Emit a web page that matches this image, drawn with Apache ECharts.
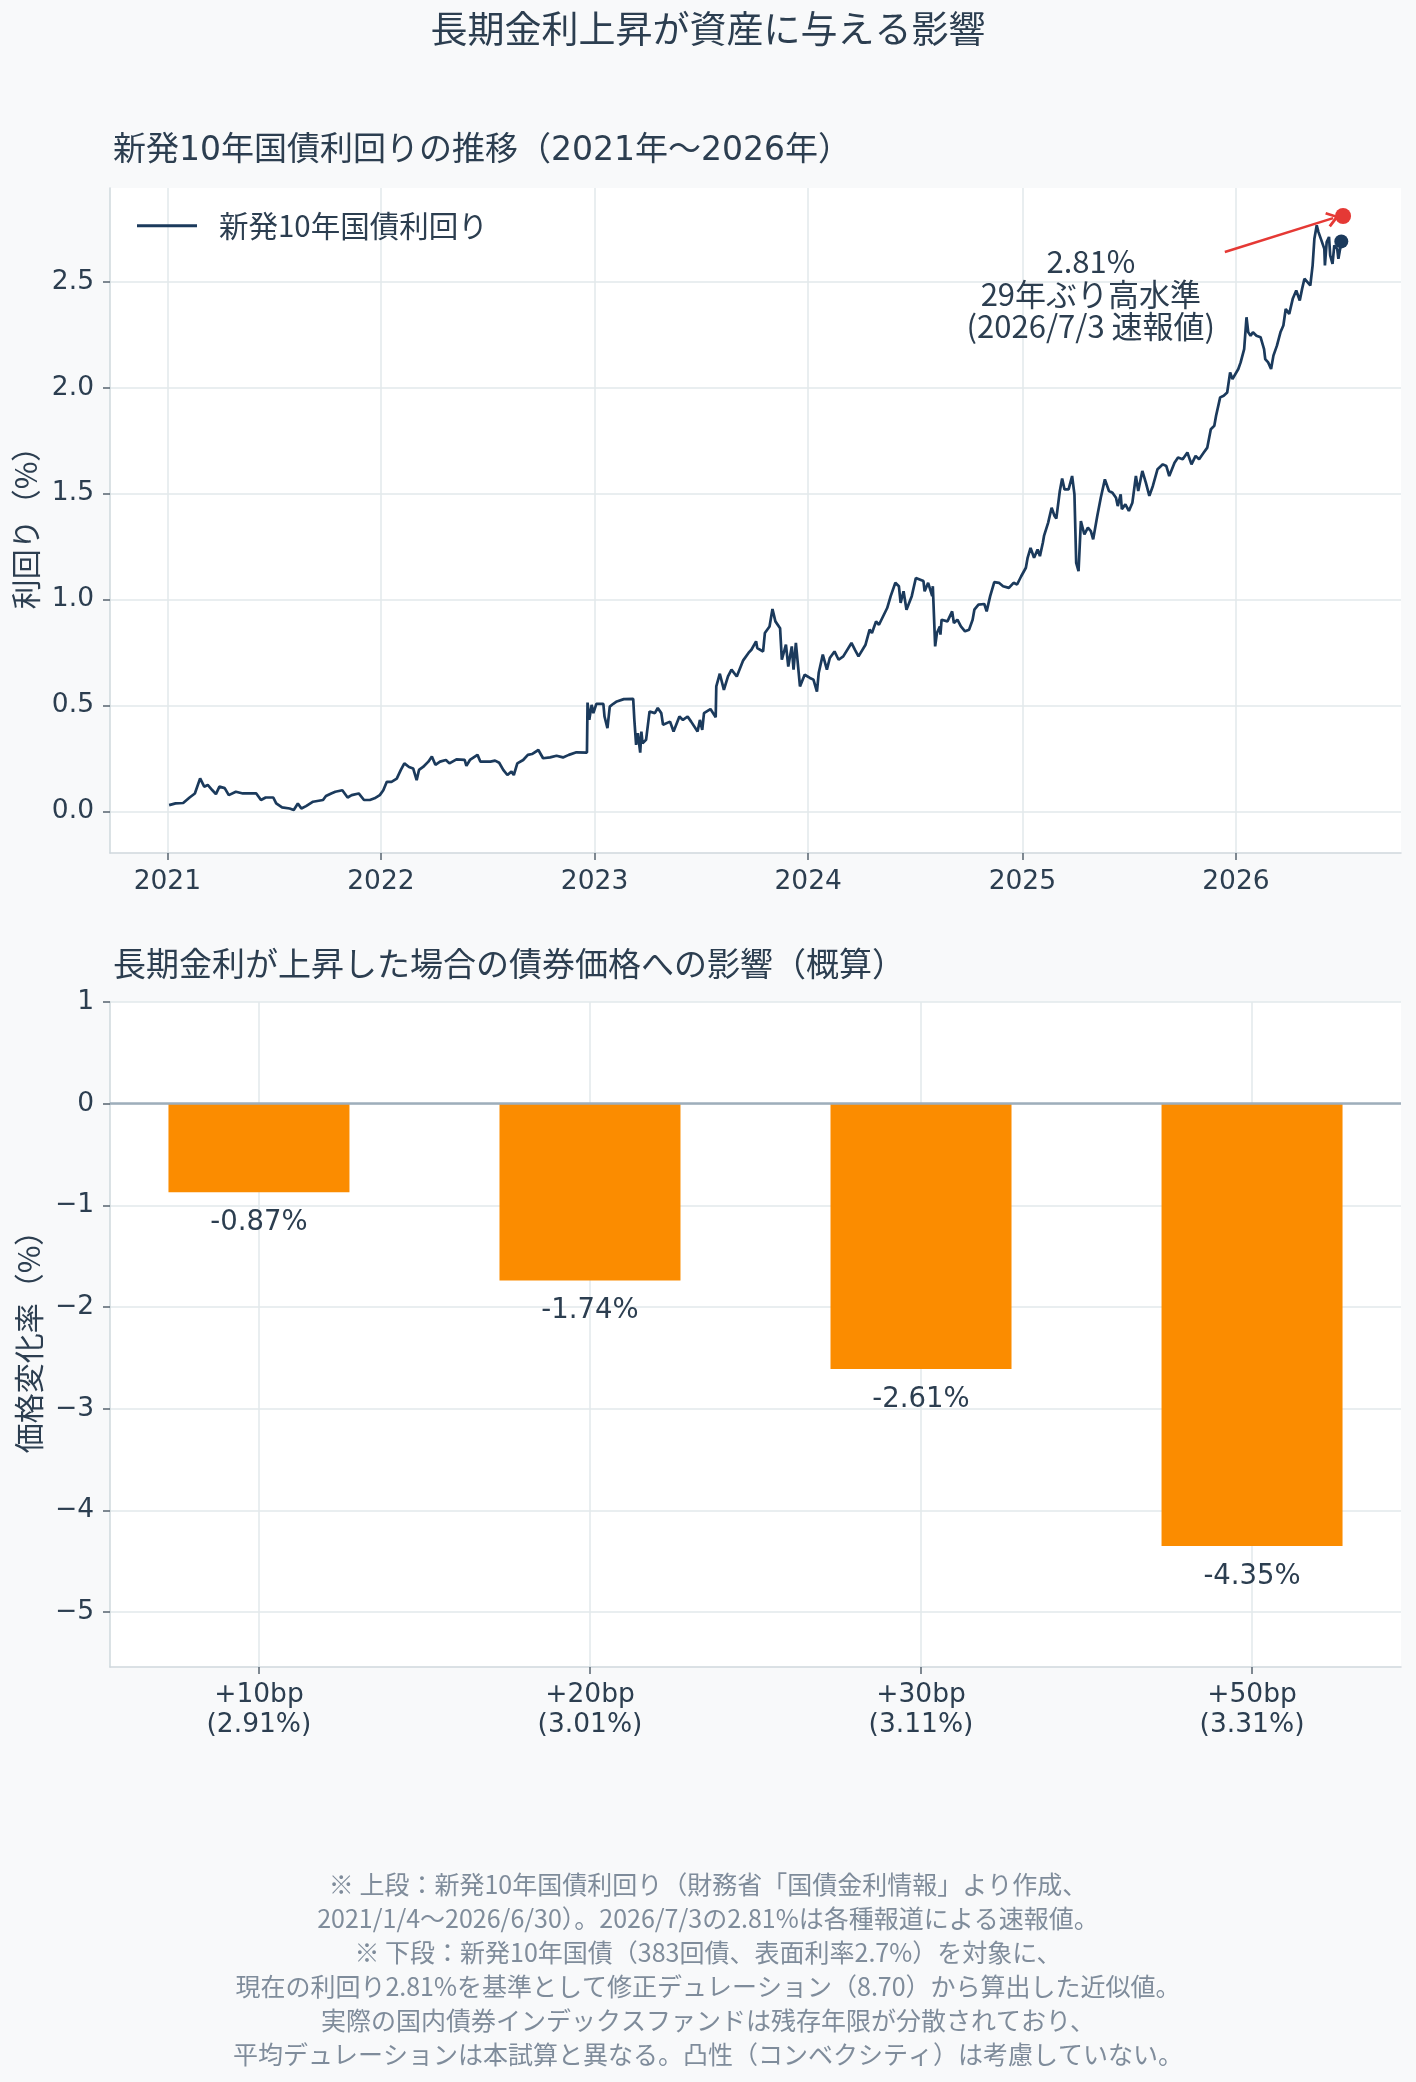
<!DOCTYPE html>
<html>
<head>
<meta charset="utf-8">
<title>長期金利上昇が資産に与える影響</title>
<script src="https://cdn.jsdelivr.net/npm/echarts@6/dist/echarts.min.js"></script>
<style>
  html, body { margin: 0; padding: 0; background: #f8f9fa; }
  #chart { width: 1416px; height: 2082px; }
</style>
</head>
<body>
<div id="chart"></div>
<script>
// 新発10年国債利回り（%）: 図から読み取った値
var yield2021 = [
  ['2021-01-04', 0.030], ['2021-01-15', 0.038], ['2021-01-28', 0.040], ['2021-02-08', 0.066],
  ['2021-02-17', 0.085], ['2021-02-26', 0.156], ['2021-03-05', 0.117], ['2021-03-11', 0.125],
  ['2021-03-19', 0.100], ['2021-03-25', 0.082], ['2021-03-31', 0.117], ['2021-04-09', 0.110],
  ['2021-04-16', 0.077], ['2021-04-28', 0.093], ['2021-05-10', 0.085], ['2021-06-02', 0.085],
  ['2021-06-10', 0.054], ['2021-06-18', 0.066], ['2021-07-01', 0.066], ['2021-07-06', 0.038],
  ['2021-07-16', 0.019], ['2021-07-29', 0.014], ['2021-08-05', 0.007], ['2021-08-12', 0.038],
  ['2021-08-18', 0.014], ['2021-08-26', 0.025], ['2021-09-07', 0.046], ['2021-09-24', 0.054],
  ['2021-09-29', 0.073], ['2021-10-08', 0.085], ['2021-10-15', 0.093], ['2021-10-27', 0.100],
  ['2021-11-05', 0.066], ['2021-11-12', 0.077], ['2021-11-24', 0.085], ['2021-12-03', 0.054],
  ['2021-12-13', 0.054], ['2021-12-21', 0.062], ['2021-12-30', 0.077]
];
var yield2022 = [
  ['2022-01-05', 0.100], ['2022-01-11', 0.140], ['2022-01-19', 0.140], ['2022-01-28', 0.155],
  ['2022-02-04', 0.196], ['2022-02-10', 0.227], ['2022-02-18', 0.210], ['2022-02-25', 0.203],
  ['2022-03-03', 0.148], ['2022-03-07', 0.196], ['2022-03-14', 0.210], ['2022-03-23', 0.235],
  ['2022-03-29', 0.259], ['2022-04-04', 0.220], ['2022-04-12', 0.235], ['2022-04-22', 0.243],
  ['2022-04-28', 0.227], ['2022-05-10', 0.246], ['2022-05-24', 0.243], ['2022-05-27', 0.215],
  ['2022-06-02', 0.243], ['2022-06-15', 0.267], ['2022-06-20', 0.235], ['2022-07-07', 0.235],
  ['2022-07-15', 0.240], ['2022-07-22', 0.230], ['2022-07-29', 0.196], ['2022-08-05', 0.172],
  ['2022-08-12', 0.188], ['2022-08-16', 0.172], ['2022-08-22', 0.227], ['2022-09-01', 0.243],
  ['2022-09-09', 0.267], ['2022-09-16', 0.271], ['2022-09-27', 0.290], ['2022-10-05', 0.251],
  ['2022-10-17', 0.255], ['2022-10-28', 0.263], ['2022-11-08', 0.255], ['2022-11-18', 0.267],
  ['2022-12-01', 0.279], ['2022-12-19', 0.278], ['2022-12-20', 0.514], ['2022-12-23', 0.432],
  ['2022-12-27', 0.503], ['2022-12-30', 0.464]
];
var yield2023 = [
  ['2023-01-04', 0.508], ['2023-01-16', 0.508], ['2023-01-18', 0.448], ['2023-01-23', 0.393],
  ['2023-01-27', 0.495], ['2023-02-02', 0.508], ['2023-02-08', 0.519], ['2023-02-20', 0.530],
  ['2023-03-08', 0.531], ['2023-03-10', 0.432], ['2023-03-13', 0.314], ['2023-03-16', 0.369],
  ['2023-03-20', 0.278], ['2023-03-22', 0.377], ['2023-03-24', 0.322], ['2023-03-30', 0.338],
  ['2023-04-05', 0.472], ['2023-04-14', 0.464], ['2023-04-19', 0.488], ['2023-04-25', 0.464],
  ['2023-04-28', 0.409], ['2023-05-10', 0.424], ['2023-05-16', 0.377], ['2023-05-26', 0.448],
  ['2023-06-01', 0.432], ['2023-06-09', 0.448], ['2023-06-15', 0.424], ['2023-06-26', 0.377],
  ['2023-06-30', 0.432], ['2023-07-04', 0.385], ['2023-07-07', 0.464], ['2023-07-18', 0.483],
  ['2023-07-27', 0.445], ['2023-07-28', 0.590], ['2023-08-03', 0.650], ['2023-08-10', 0.574],
  ['2023-08-17', 0.637], ['2023-08-23', 0.669], ['2023-09-01', 0.637], ['2023-09-12', 0.713],
  ['2023-09-21', 0.748], ['2023-09-26', 0.763], ['2023-10-04', 0.803], ['2023-10-06', 0.771],
  ['2023-10-16', 0.755], ['2023-10-19', 0.842], ['2023-10-27', 0.873], ['2023-11-01', 0.955],
  ['2023-11-06', 0.897], ['2023-11-14', 0.865], ['2023-11-17', 0.716], ['2023-11-24', 0.787],
  ['2023-11-28', 0.684], ['2023-12-04', 0.779], ['2023-12-07', 0.669], ['2023-12-11', 0.795],
  ['2023-12-18', 0.590], ['2023-12-26', 0.645]
];
var yield2024 = [
  ['2024-01-04', 0.630], ['2024-01-10', 0.622], ['2024-01-16', 0.566], ['2024-01-19', 0.653],
  ['2024-01-26', 0.740], ['2024-02-02', 0.669], ['2024-02-07', 0.724], ['2024-02-15', 0.755],
  ['2024-02-22', 0.716], ['2024-03-01', 0.732], ['2024-03-15', 0.795], ['2024-03-21', 0.763],
  ['2024-03-27', 0.732], ['2024-04-08', 0.787], ['2024-04-15', 0.858], ['2024-04-19', 0.842],
  ['2024-04-26', 0.897], ['2024-05-01', 0.881], ['2024-05-15', 0.960], ['2024-05-21', 1.016],
  ['2024-05-29', 1.079], ['2024-06-04', 1.063], ['2024-06-07', 0.984], ['2024-06-12', 1.039],
  ['2024-06-17', 0.952], ['2024-06-26', 1.016], ['2024-07-03', 1.102], ['2024-07-16', 1.087],
  ['2024-07-18', 1.039], ['2024-07-24', 1.079], ['2024-07-31', 1.016], ['2024-08-01', 1.063],
  ['2024-08-05', 0.779], ['2024-08-08', 0.842], ['2024-08-13', 0.873], ['2024-08-14', 0.834],
  ['2024-08-16', 0.905], ['2024-08-26', 0.897], ['2024-09-03', 0.944], ['2024-09-06', 0.889],
  ['2024-09-12', 0.905], ['2024-09-18', 0.873], ['2024-09-25', 0.850], ['2024-10-02', 0.858],
  ['2024-10-08', 0.905], ['2024-10-11', 0.952], ['2024-10-18', 0.976], ['2024-10-28', 0.979],
  ['2024-11-01', 0.944], ['2024-11-07', 1.016], ['2024-11-14', 1.082], ['2024-11-22', 1.079],
  ['2024-11-29', 1.063], ['2024-12-09', 1.055], ['2024-12-17', 1.079], ['2024-12-23', 1.071],
  ['2024-12-30', 1.110]
];
var yield2025 = [
  ['2025-01-07', 1.150], ['2025-01-10', 1.197], ['2025-01-15', 1.244], ['2025-01-21', 1.197],
  ['2025-01-27', 1.236], ['2025-01-31', 1.205], ['2025-02-05', 1.268], ['2025-02-07', 1.300],
  ['2025-02-14', 1.362], ['2025-02-20', 1.433], ['2025-02-25', 1.394], ['2025-02-28', 1.382],
  ['2025-03-06', 1.512], ['2025-03-10', 1.571], ['2025-03-14', 1.520], ['2025-03-21', 1.520],
  ['2025-03-27', 1.583], ['2025-03-31', 1.496], ['2025-04-03', 1.173], ['2025-04-07', 1.134],
  ['2025-04-11', 1.370], ['2025-04-17', 1.307], ['2025-04-23', 1.339], ['2025-04-28', 1.323],
  ['2025-05-02', 1.284], ['2025-05-09', 1.394], ['2025-05-15', 1.480], ['2025-05-22', 1.567],
  ['2025-05-29', 1.512], ['2025-06-04', 1.504], ['2025-06-10', 1.480], ['2025-06-13', 1.441],
  ['2025-06-18', 1.496], ['2025-06-20', 1.426], ['2025-06-26', 1.449], ['2025-07-02', 1.418],
  ['2025-07-08', 1.457], ['2025-07-14', 1.583], ['2025-07-18', 1.512], ['2025-07-25', 1.607],
  ['2025-07-31', 1.552], ['2025-08-06', 1.489], ['2025-08-12', 1.536], ['2025-08-20', 1.615],
  ['2025-08-29', 1.638], ['2025-09-04', 1.630], ['2025-09-09', 1.583], ['2025-09-18', 1.646],
  ['2025-09-24', 1.670], ['2025-10-02', 1.662], ['2025-10-10', 1.694], ['2025-10-17', 1.638],
  ['2025-10-24', 1.678], ['2025-10-30', 1.662], ['2025-11-07', 1.694], ['2025-11-13', 1.717],
  ['2025-11-19', 1.804], ['2025-11-25', 1.820], ['2025-11-28', 1.867], ['2025-12-05', 1.954],
  ['2025-12-11', 1.962], ['2025-12-17', 1.977], ['2025-12-22', 2.072], ['2025-12-26', 2.040]
];
var yield2026 = [
  ['2026-01-05', 2.088], ['2026-01-09', 2.119], ['2026-01-15', 2.182], ['2026-01-19', 2.332],
  ['2026-01-22', 2.261], ['2026-01-26', 2.245], ['2026-01-30', 2.261], ['2026-02-05', 2.245],
  ['2026-02-12', 2.238], ['2026-02-18', 2.182], ['2026-02-20', 2.135], ['2026-02-25', 2.119],
  ['2026-03-02', 2.088], ['2026-03-06', 2.151], ['2026-03-12', 2.198], ['2026-03-18', 2.261],
  ['2026-03-23', 2.293], ['2026-03-27', 2.371], ['2026-04-02', 2.348], ['2026-04-08', 2.419],
  ['2026-04-14', 2.458], ['2026-04-20', 2.411], ['2026-04-24', 2.466], ['2026-04-28', 2.514],
  ['2026-05-08', 2.482], ['2026-05-12', 2.577], ['2026-05-15', 2.703], ['2026-05-19', 2.766],
  ['2026-05-22', 2.734], ['2026-05-27', 2.695], ['2026-06-01', 2.655], ['2026-06-02', 2.577],
  ['2026-06-05', 2.687], ['2026-06-09', 2.711], ['2026-06-11', 2.624], ['2026-06-15', 2.584],
  ['2026-06-18', 2.671], ['2026-06-23', 2.655], ['2026-06-25', 2.608], ['2026-06-29', 2.671],
  ['2026-06-30', 2.690]
];

// 速報値
var flashDate = '2026-07-03';
var flashValue = 2.81;

// 下段：金利上昇幅ごとの価格変化率（%）
var shockLabels = ['+10bp\n(2.91%)', '+20bp\n(3.01%)', '+30bp\n(3.11%)', '+50bp\n(3.31%)'];
var priceChanges = [-0.87, -1.74, -2.61, -4.35];

// 目盛り
var yearTicks = ['2021-01-01', '2022-01-01', '2023-01-01', '2024-01-01', '2025-01-01', '2026-01-01'];
var yieldTicks = [0, 0.5, 1, 1.5, 2, 2.5];
var changeTicks = [-5, -4, -3, -2, -1, 0, 1];

var notes = [
  '※ 上段：新発10年国債利回り（財務省「国債金利情報」より作成、',
  '2021/1/4〜2026/6/30）。2026/7/3の2.81%は各種報道による速報値。',
  '※ 下段：新発10年国債（383回債、表面利率2.7%）を対象に、',
  '現在の利回り2.81%を基準として修正デュレーション（8.70）から算出した近似値。',
  '実際の国内債券インデックスファンドは残存年限が分散されており、',
  '平均デュレーションは本試算と異なる。凸性（コンベクシティ）は考慮していない。'
];

var FONT_JP = "'Noto Sans CJK JP', 'DejaVu Sans', sans-serif";
var FONT_NUM = "'DejaVu Sans', 'Noto Sans CJK JP', sans-serif";
var TEXT = '#2c3e50';
var GRIDLINE = '#e2e8eb';
var SPINE = '#cfd8dd';
var NAVY = '#1b3a5c';
var RED = '#e53935';

function t(d) { return Date.parse(d + 'T00:00:00Z'); }

var yieldSeries = [].concat(yield2021, yield2022, yield2023, yield2024, yield2025, yield2026)
  .map(function (p) { return [t(p[0]), p[1]]; });
var lastPoint = yieldSeries[yieldSeries.length - 1];

// 開いた矢じり（->）
var openArrow = 'path://M5,0 L10,7.5 L8.6,8.6 L5,3.2 L1.4,8.6 L0,7.5 Z';

var chart = echarts.init(document.getElementById('chart'));

function minusSign(v) {
  return String(v).replace('-', '\u2212');
}

var option = {
  backgroundColor: '#f8f9fa',
  animation: false,
  textStyle: { fontFamily: FONT_JP },
  title: [
    {
      text: '長期金利上昇が資産に与える影響',
      left: 'center', top: 10, padding: 0,
      textStyle: { fontSize: 37, fontWeight: 'normal', color: TEXT, fontFamily: FONT_JP }
    },
    {
      text: '新発10年国債利回りの推移（2021年〜2026年）',
      left: 113, top: 135, padding: 0,
      textStyle: { fontSize: 33, fontWeight: 'normal', color: TEXT, fontFamily: FONT_NUM }
    },
    {
      text: '長期金利が上昇した場合の債券価格への影響（概算）',
      left: 113, top: 947, padding: 0,
      textStyle: { fontSize: 33, fontWeight: 'normal', color: TEXT, fontFamily: FONT_JP }
    }
  ],
  legend: {
    data: ['新発10年国債利回り'],
    left: 137, top: 211, padding: 0,
    icon: 'rect',
    itemWidth: 60, itemHeight: 3,
    textStyle: { fontSize: 29.5, color: TEXT, fontFamily: FONT_JP, padding: [0, 0, 0, 17] }
  },
  grid: [
    { left: 110, width: 1291, top: 188, height: 665, show: true, backgroundColor: '#ffffff', borderWidth: 0 },
    { left: 110, width: 1291, top: 1002, height: 665, show: true, backgroundColor: '#ffffff', borderWidth: 0 }
  ],
  xAxis: [
    {
      type: 'value', gridIndex: 0,
      min: t('2020-09-25'), max: t('2026-10-10'),
      axisLine: { show: true, onZero: false, lineStyle: { color: SPINE, width: 1.5 } },
      axisTick: { show: true, customValues: yearTicks.map(t), length: 7, lineStyle: { color: '#56636f', width: 1.5 } },
      axisLabel: {
        customValues: yearTicks.map(t), margin: 16, fontSize: 26.5, color: TEXT, fontFamily: FONT_NUM,
        formatter: function (v) { return String(new Date(v).getUTCFullYear()); }
      },
      splitLine: { show: true, lineStyle: { color: GRIDLINE, width: 1.5 } }
    },
    {
      type: 'value', gridIndex: 1,
      min: -0.45, max: 3.45,
      axisLine: { show: true, onZero: false, lineStyle: { color: SPINE, width: 1.5 } },
      axisTick: { show: true, customValues: [0, 1, 2, 3], length: 7, lineStyle: { color: '#56636f', width: 1.5 } },
      axisLabel: {
        customValues: [0, 1, 2, 3], margin: 13, fontSize: 26.5, lineHeight: 30, color: TEXT, fontFamily: FONT_NUM,
        formatter: function (v) { return shockLabels[Math.round(v)]; }
      },
      splitLine: { show: true, lineStyle: { color: GRIDLINE, width: 1.5 } }
    }
  ],
  yAxis: [
    {
      type: 'value', gridIndex: 0,
      min: -0.196, max: 2.942,
      name: '利回り（%）', nameLocation: 'middle', nameGap: 69,
      nameTextStyle: { fontSize: 30, color: TEXT, fontFamily: FONT_JP },
      axisLine: { show: true, onZero: false, lineStyle: { color: SPINE, width: 1.5 } },
      axisTick: { show: true, customValues: yieldTicks, length: 7, lineStyle: { color: '#56636f', width: 1.5 } },
      axisLabel: {
        customValues: yieldTicks, margin: 16, fontSize: 26.5, color: TEXT, fontFamily: FONT_NUM,
        formatter: function (v) { return v.toFixed(1); }
      },
      splitLine: { show: true, lineStyle: { color: GRIDLINE, width: 1.5 } }
    },
    {
      type: 'value', gridIndex: 1,
      min: -5.54, max: 1,
      name: '価格変化率（%）', nameLocation: 'middle', nameGap: 62,
      nameTextStyle: { fontSize: 30, color: TEXT, fontFamily: FONT_JP },
      axisLine: { show: true, onZero: false, lineStyle: { color: SPINE, width: 1.5 } },
      axisTick: { show: true, customValues: changeTicks, length: 7, lineStyle: { color: '#56636f', width: 1.5 } },
      axisLabel: {
        customValues: changeTicks, margin: 16, fontSize: 26.5, color: TEXT, fontFamily: FONT_NUM,
        formatter: function (v) { return minusSign(Math.round(v)); }
      },
      splitLine: { show: true, lineStyle: { color: GRIDLINE, width: 1.5 } }
    }
  ],
  series: [
    {
      name: '新発10年国債利回り',
      type: 'line', xAxisIndex: 0, yAxisIndex: 0,
      data: yieldSeries,
      symbol: 'none',
      lineStyle: { color: NAVY, width: 2.7 },
      itemStyle: { color: NAVY },
      z: 3
    },
    {
      type: 'scatter', xAxisIndex: 0, yAxisIndex: 0,
      data: [lastPoint],
      symbolSize: 14,
      itemStyle: { color: NAVY, opacity: 1 },
      z: 4
    },
    {
      type: 'scatter', xAxisIndex: 0, yAxisIndex: 0,
      data: [[t(flashDate), flashValue]],
      symbolSize: 16,
      itemStyle: { color: RED, opacity: 1 },
      z: 5,
      markLine: {
        silent: true,
        symbol: ['none', openArrow],
        symbolSize: [16, 13],
        lineStyle: { color: RED, width: 2.5, type: 'solid', opacity: 1 },
        label: { show: false },
        data: [[{ coord: [t('2025-12-13'), 2.64] }, { coord: [t('2026-06-16'), 2.80] }]]
      },
      markPoint: {
        silent: true,
        symbol: 'rect', symbolSize: 1,
        itemStyle: { color: 'rgba(0,0,0,0)' },
        label: {
          show: true, position: 'inside',
          formatter: '2.81%\n29年ぶり高水準\n(2026/7/3 速報値)',
          fontSize: 31, lineHeight: 32.5, color: TEXT, fontFamily: FONT_JP,
          align: 'center', verticalAlign: 'middle'
        },
        data: [{ coord: [t('2025-04-28'), 2.442] }]
      }
    },
    {
      type: 'bar', xAxisIndex: 1, yAxisIndex: 1,
      data: priceChanges.map(function (v, i) { return [i, v]; }),
      barWidth: 181,
      itemStyle: { color: '#fb8c00' },
      label: {
        show: true, position: 'bottom', distance: 17,
        fontSize: 27.5, color: TEXT, fontFamily: FONT_NUM,
        formatter: function (p) { return p.value[1].toFixed(2) + '%'; }
      },
      markLine: {
        silent: true,
        symbol: ['none', 'none'],
        label: { show: false },
        lineStyle: { color: '#9eaebb', width: 2.5, type: 'solid' },
        data: [{ yAxis: 0 }]
      },
      z: 3
    }
  ],
  graphic: [
    {
      type: 'text',
      left: 'center', top: 1867,
      style: {
        text: notes.join('\n'),
        fontSize: 25, lineHeight: 34,
        fill: '#7f8c9b', fontFamily: FONT_JP,
        textAlign: 'center'
      }
    }
  ]
};

chart.setOption(option);
</script>
</body>
</html>
